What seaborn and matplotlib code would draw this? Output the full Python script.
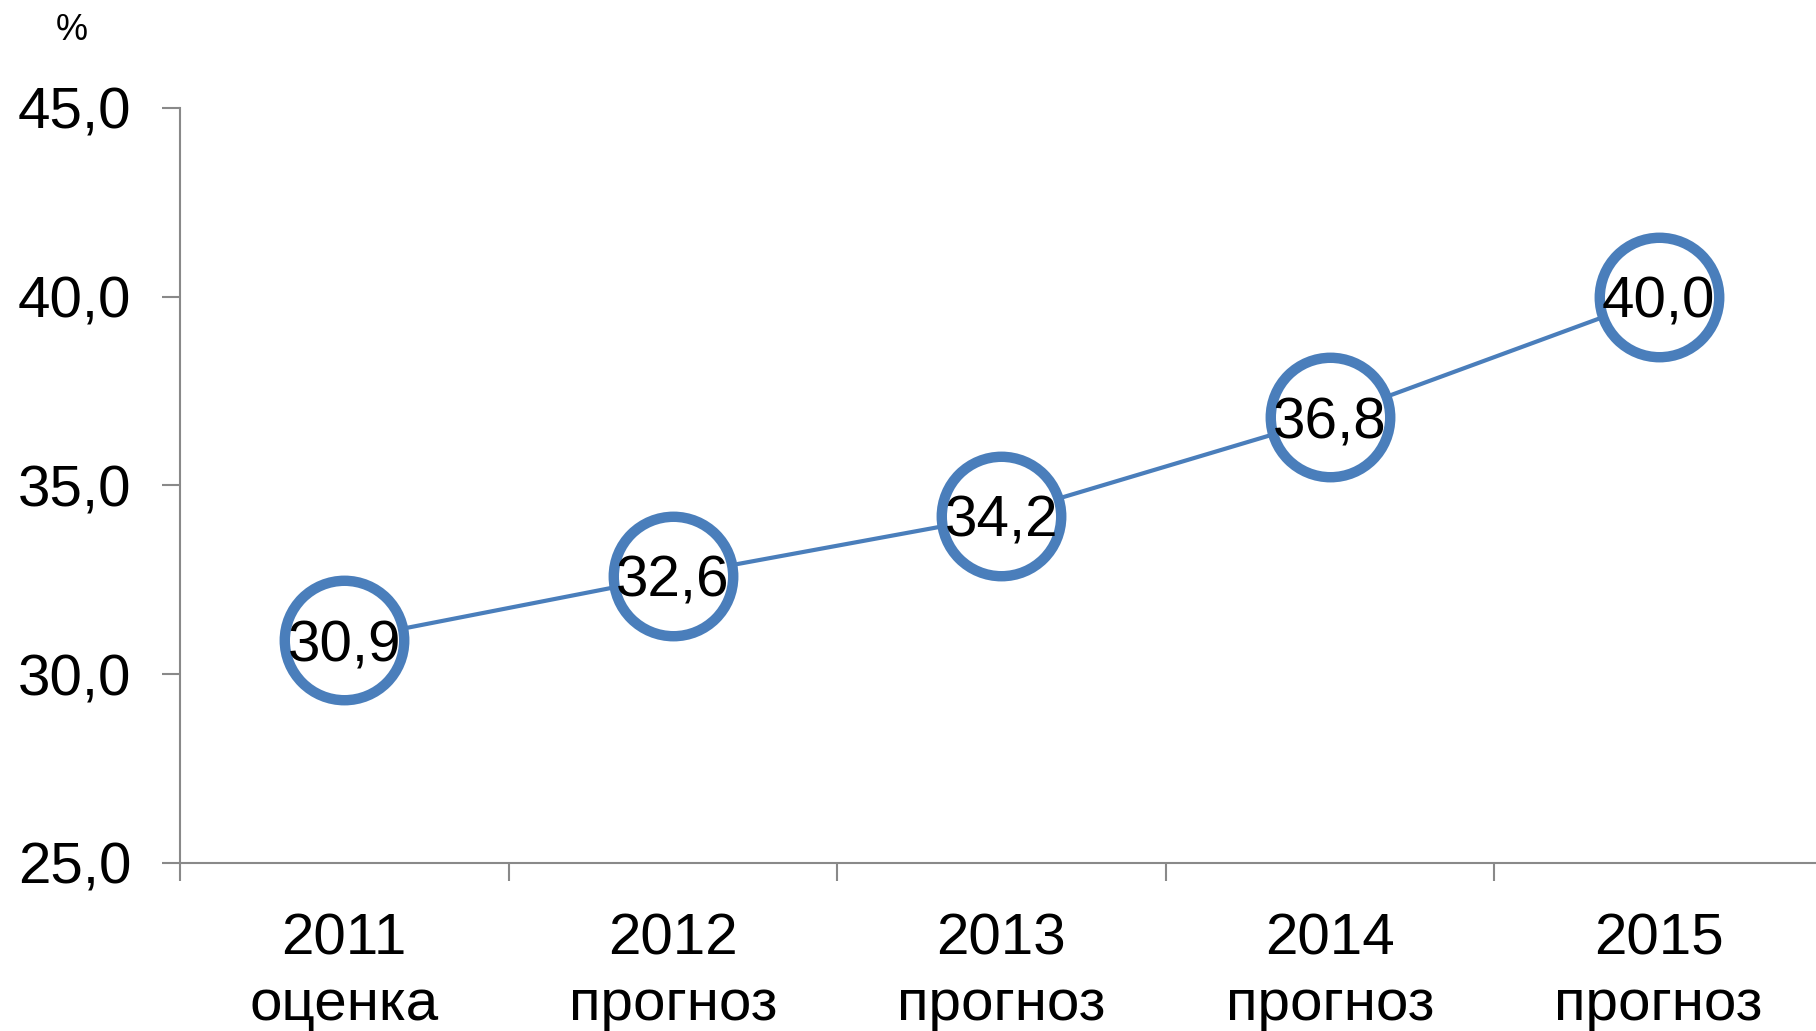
import numpy as np
import pandas as pd
import matplotlib
matplotlib.use("Agg")
import matplotlib.pyplot as plt
import seaborn as sns

years = ["2011", "2012", "2013", "2014", "2015"]
notes = ["оценка", "прогноз", "прогноз", "прогноз", "прогноз"]
values = [30.9, 32.6, 34.2, 36.8, 40.0]
yticks = [25.0, 30.0, 35.0, 40.0, 45.0]

sns.set_style(
    {
        "axes.edgecolor": "#898989",
        "xtick.color": "#898989",
        "ytick.color": "#898989",
        "axes.facecolor": "white",
        "axes.grid": False,
        "axes.spines.right": False,
        "axes.spines.top": False,
    }
)
plt.rcParams['font.family'] = ['Liberation Sans', 'DejaVu Sans']

blue = "#4A7EBB"
df = pd.DataFrame({'x': np.arange(len(years)), 'value': values})

fig = plt.figure(figsize=(18.16, 10.31), dpi=100)
# ось немного выходит за правый край, как в оригинале
ax = fig.add_axes([180 / 1816, 1 - 862.7 / 1031, (1823 - 180) / 1816, (862.7 - 108) / 1031])

sns.lineplot(data=df, x='x', y='value', ax=ax, color=blue, linewidth=3,
             marker='o', markersize=86, markerfacecolor='white',
             markeredgecolor=blue, markeredgewidth=7.5, clip_on=False, zorder=3)

# подписи значений в кружках
for i, v in enumerate(values):
    ax.text(i, v, f"{v:.1f}".replace('.', ','), ha='center', va='center_baseline',
            fontsize=42, color='black', zorder=4)

ax.set_xlim(-0.5, len(years) - 0.5)
ax.set_ylim(25, 45)
ax.set_yticks(yticks)
ax.set_yticklabels([f"{t:.1f}".replace('.', ',') for t in yticks])
ax.set_xticks(np.arange(len(years)))
ax.set_xticklabels([f"{y}\n{n}" for y, n in zip(years, notes)], linespacing=1.27)
ax.set_xticks(np.arange(-0.5, len(years)), minor=True)
ax.tick_params(axis='x', which='major', length=0, pad=36, labelsize=42, labelcolor='black')
ax.tick_params(axis='x', which='minor', length=13, width=1.5, direction='out')
ax.tick_params(axis='y', length=13, width=1.5, direction='out', pad=22, labelsize=42, labelcolor='black')
for s in ['left', 'bottom']:
    ax.spines[s].set_linewidth(1.5)
ax.set_xlabel('')
ax.set_ylabel('')

fig.text(72 / 1816, 1 - 31 / 1031, '%', ha='center', va='center', fontsize=26)

fig.savefig('out.png', dpi=100)
